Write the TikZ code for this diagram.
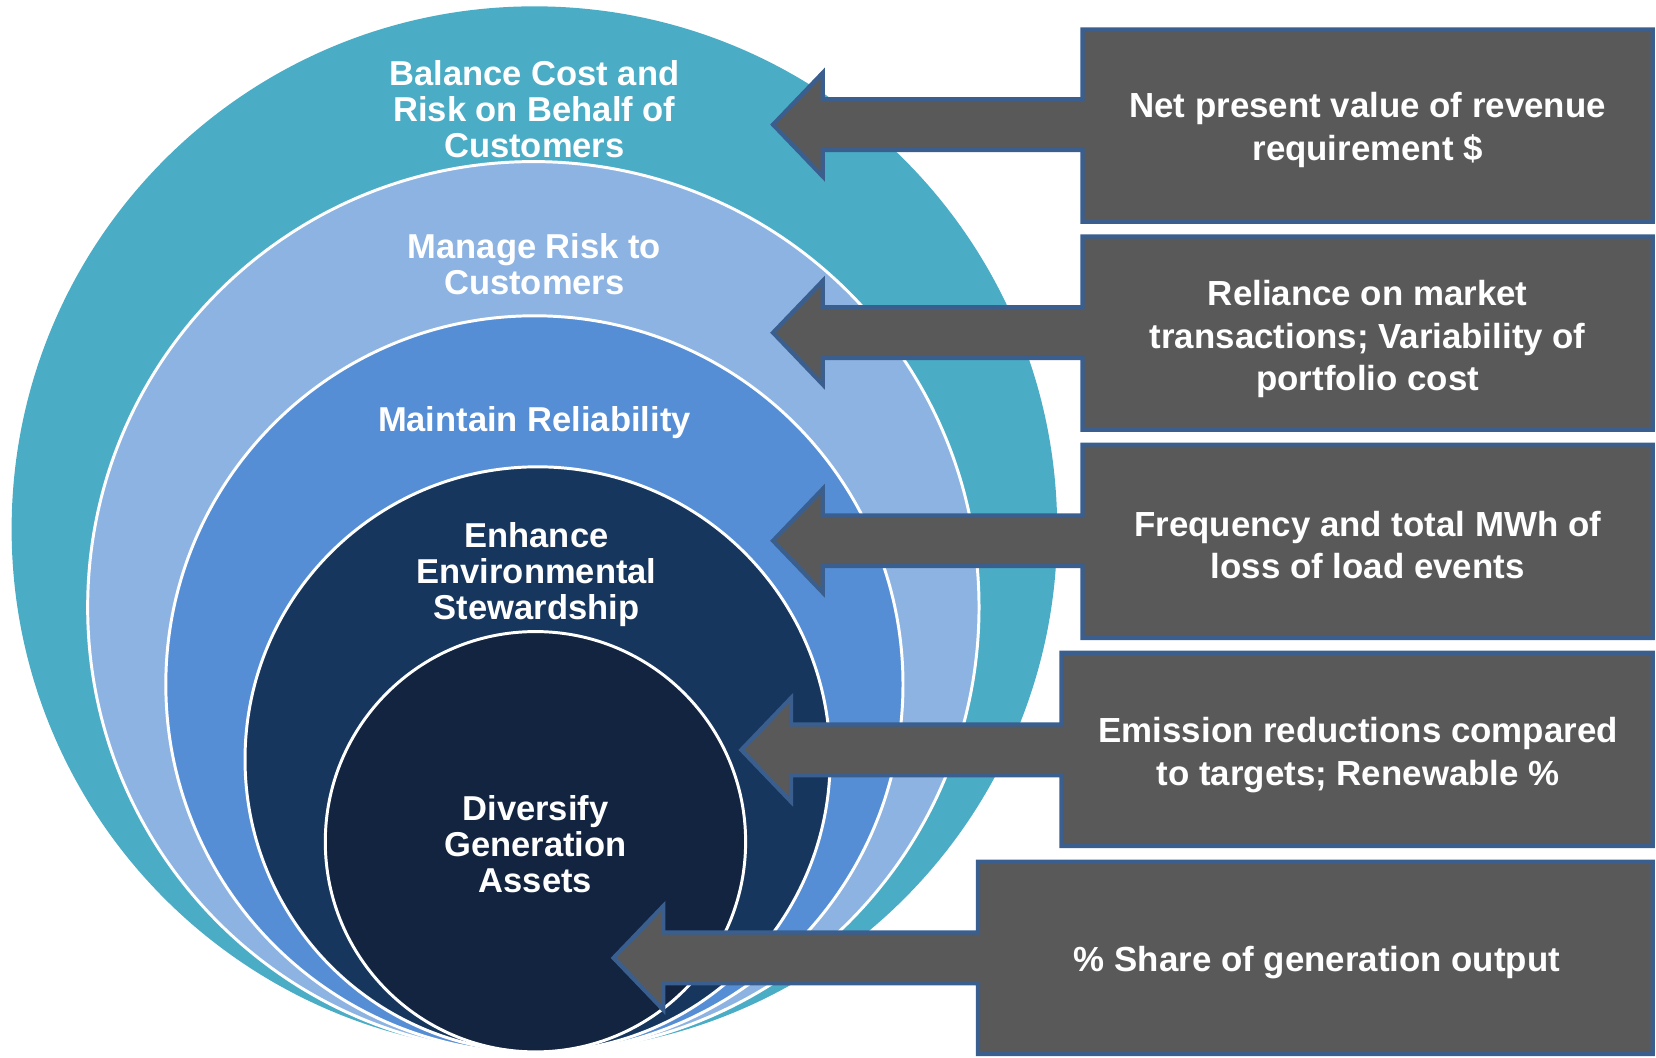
\documentclass[tikz,border=0pt]{standalone}
\usepackage{fontspec}
\setmainfont{Liberation Sans}
\definecolor{cTeal}{HTML}{4BACC6}
\definecolor{cLight}{HTML}{8DB3E2}
\definecolor{cMed}{HTML}{558ED5}
\definecolor{cNavy}{HTML}{17365D}
\definecolor{cDark}{HTML}{12243F}
\definecolor{cGray}{HTML}{595959}
\definecolor{cEdge}{HTML}{3A5F8F}
\newcommand\callout[6]{% L T R B tipx arrowy
  \draw[calloutline] (#1,#2) -- (#3,#2) -- (#3,#4) -- (#1,#4) -- (#1,#6+24) -- (#5+47,#6+24) -- (#5+47,#6+49) -- (#5,#6) -- (#5+47,#6-49) -- (#5+47,#6-24) -- (#1,#6-24) -- cycle;}
\begin{document}
\begin{tikzpicture}[x=0.5pt,y=-0.5pt,
  ring/.style={circle,inner sep=0pt,outer sep=0pt,draw=white,line width=1.4pt},
  ringtext/.style={text=white,align=center,font=\fontsize{16.35pt}{17pt}\selectfont\bfseries,inner sep=0pt},
  metric/.style={text=white,align=center,font=\fontsize{16.5pt}{20pt}\selectfont\bfseries,inner sep=0pt},
  calloutline/.style={fill=cGray,draw=cEdge,line width=2pt,line join=miter}]
\useasboundingbox (0,0) rectangle (1568,1001);
% rings
\node[ring,fill=cTeal,draw=none,minimum size=495pt] (c1) at (506,501) {};
\node[ring,fill=cLight,minimum size=422pt] (c2) at (505,575) {};
\node[ring,fill=cMed,minimum size=349pt] (c3) at (506,648) {};
\node[ring,fill=cNavy,minimum size=277pt] (c4) at (509,719) {};
\node[ring,fill=cDark,minimum size=199pt] (c5) at (507,797) {};
% ring labels
\node[ringtext] (t1) at (506,103) {Balance Cost and\\Risk on Behalf of\\Customers};
\node[ringtext] (t2) at (506,250) {Manage Risk to\\Customers};
\node[ringtext] (t3) at (506,400) {Maintain Reliability};
\node[ringtext] (t4) at (508,544) {Enhance\\Environmental\\Stewardship};
\node[ringtext] (t5) at (507,799) {Diversify\\Generation\\Assets};
% callouts
\callout{1025}{28}{1565}{210}{732}{118}
\callout{1025}{224}{1565}{407}{732}{315}
\callout{1025}{421}{1565}{604}{732}{512}
\callout{1005}{618}{1565}{801}{702}{710}
\callout{926}{816}{1565}{998}{581}{907}
% metric labels
\node[metric] (m1) at (1295,123) {Net present value of revenue\\requirement \$};
\node[metric] (m2) at (1295,321) {Reliance on market\\transactions; Variability of\\portfolio cost};
\node[metric] (m3) at (1295,516) {Frequency and total MWh of\\loss of load events};
\node[metric] (m4) at (1286,715) {Emission reductions compared\\to targets; Renewable \%};
\node[metric] (m5) at (1247,911) {\% Share of generation output};
\end{tikzpicture}
\end{document}
